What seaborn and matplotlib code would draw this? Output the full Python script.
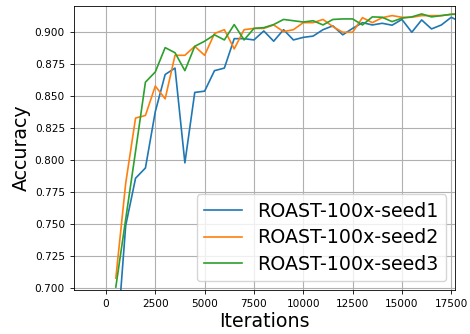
import matplotlib
matplotlib.use("Agg")
import matplotlib.pyplot as plt
import seaborn as sns
import pandas as pd

iterations = [500, 1000, 1500, 2000, 2500, 3000, 3500, 4000, 4500, 5000,
              5500, 6000, 6500, 7000, 7500, 8000, 8500, 9000, 9500, 10000,
              10500, 11000, 11500, 12000, 12500, 13000, 13500, 14000, 14500, 15000,
              15500, 16000, 16500, 17000, 17500, 18000]

seed1 = [0.647, 0.749, 0.786, 0.794, 0.838, 0.867, 0.872, 0.798, 0.853, 0.854,
         0.870, 0.872, 0.895, 0.895, 0.894, 0.901, 0.893, 0.902, 0.894, 0.896,
         0.897, 0.902, 0.905, 0.898, 0.903, 0.9075, 0.9057, 0.907, 0.9055, 0.910,
         0.900, 0.9096, 0.9026, 0.9057, 0.9117, 0.9078]

seed2 = [0.708, 0.782, 0.833, 0.835, 0.858, 0.848, 0.882, 0.882, 0.889, 0.882,
         0.899, 0.902, 0.887, 0.902, 0.903, 0.903, 0.9057, 0.9005, 0.902, 0.9075,
         0.9075, 0.910, 0.9044, 0.900, 0.900, 0.9114, 0.9075, 0.9114, 0.913, 0.9117,
         0.9117, 0.913, 0.913, 0.913, 0.914, 0.914]

seed3 = [0.701, 0.754, 0.807, 0.861, 0.869, 0.888, 0.884, 0.870, 0.889, 0.893,
         0.898, 0.894, 0.906, 0.894, 0.903, 0.9036, 0.906, 0.910, 0.909, 0.908,
         0.909, 0.9057, 0.910, 0.9104, 0.9104, 0.9057, 0.912, 0.9117, 0.9083, 0.911,
         0.912, 0.9143, 0.912, 0.913, 0.914, 0.9145]

labels = ["ROAST-100x-seed1", "ROAST-100x-seed2", "ROAST-100x-seed3"]
xticks = [0, 2500, 5000, 7500, 10000, 12500, 15000, 17500]
yticks = [0.700, 0.725, 0.750, 0.775, 0.800, 0.825, 0.850, 0.875, 0.900]

colors = ["#1f77b4", "#ff7f0e", "#2ca02c"]

fig = plt.figure(figsize=(4.7, 3.34), dpi=100)
ax = fig.add_axes([74/470, 1 - 290/334, (455 - 74)/470, (290 - 6)/334])

for vals, lab, c in zip([seed1, seed2, seed3], labels, colors):
    df = pd.DataFrame({"Iterations": iterations, "Accuracy": vals})
    sns.lineplot(data=df, x="Iterations", y="Accuracy", ax=ax, color=c,
                 label=lab, linewidth=1.2)

ax.set_xlim(-1620, 17690)
ax.set_ylim(0.6987, 0.9205)
ax.set_xticks(xticks)
ax.set_yticks(yticks)
ax.set_xticklabels([str(t) for t in xticks])
ax.set_yticklabels([f"{t:.3f}" for t in yticks])
ax.tick_params(labelsize=7.6, length=3, width=0.6)
ax.grid(True, color="#b0b0b0", linewidth=0.8)
ax.set_axisbelow(True)
for s in ax.spines.values():
    s.set_linewidth(0.6)

ax.set_xlabel("Iterations", fontsize=13.7, labelpad=2)
ax.set_ylabel("Accuracy", fontsize=13.7, labelpad=3)

ax.legend(loc="lower right", fontsize=13.7, handlelength=2.0, framealpha=0.8,
          borderaxespad=0.45, labelspacing=0.4, borderpad=0.4,
          handletextpad=0.8)

fig.savefig("out.png", dpi=100)
